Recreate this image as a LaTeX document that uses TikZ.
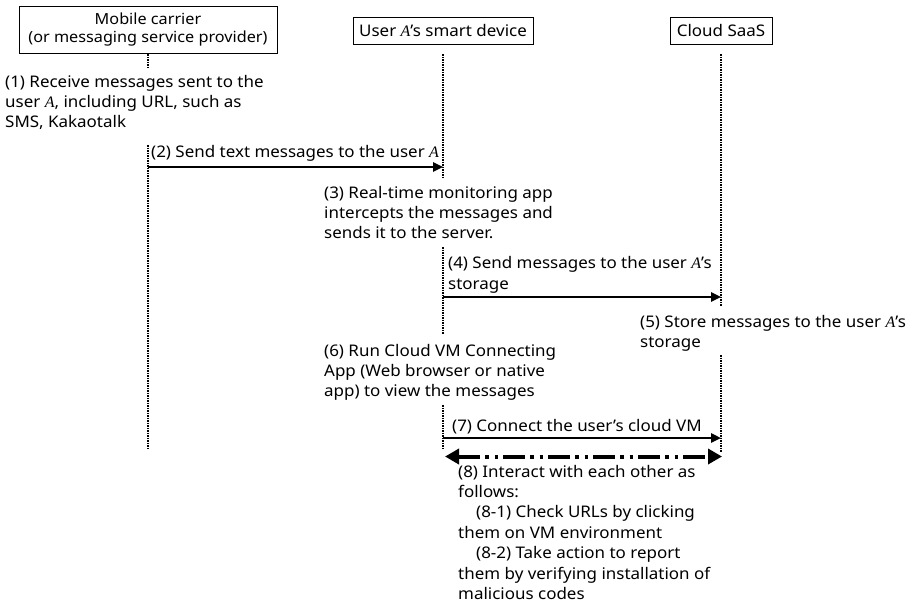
\documentclass[tikz,border=0pt]{standalone}
\usepackage{fontspec}
\setmainfont{Noto Sans}[FakeStretch=1.06]
\newfontfamily\serifA{Liberation Serif}
\usetikzlibrary{arrows.meta}
\newcommand\IA{{\serifA\itshape A}}
\newcommand\blk[2][20pt]{\vtop{\baselineskip=#1\lineskiplimit=-20pt\halign{##\hfil\cr#2\crcr}}}
\begin{document}
\begin{tikzpicture}[x=1pt,y=-1pt,
  font=\fontsize{16}{20}\selectfont,
  box/.style={draw, line width=0.8pt, inner sep=0pt, align=center},
  note/.style={anchor=base west, inner sep=0pt},
  life/.style={line width=1.1pt, dash pattern=on 1.5pt off 1pt},
  msg/.style={line width=2.4pt, -{Triangle[length=10pt,width=9pt]}},
  inter/.style={line width=4pt, dash pattern=on 22pt off 5pt on 3.5pt off 6pt on 3.5pt off 5pt,
    {Triangle[length=14pt,width=15pt]}-{Triangle[length=14pt,width=15pt]}}]
\useasboundingbox[fill=white] (0,0) rectangle (909,606);

% participants
\node[box, minimum width=258pt, minimum height=47pt, font=\fontsize{15.3}{18}\selectfont] (mc) at (148,29.5)
  {Mobile carrier\\(or messaging service provider)};
\node[box, minimum width=180pt, minimum height=27pt] (ud) at (443,30.5) {User \IA's smart device};
\node[box, minimum width=102pt, minimum height=27pt] (cs) at (721,30.5) {Cloud SaaS};

% lifeline coordinates
\coordinate (a0) at (148,54);  \coordinate (a1) at (148,68);
\coordinate (a2) at (148,145); \coordinate (a3) at (148,450);
\coordinate (b0) at (443,54);  \coordinate (b1) at (443,178);
\coordinate (b2) at (443,247); \coordinate (b3) at (443,334);
\coordinate (b4) at (443,405); \coordinate (b5) at (443,450);
\coordinate (c0) at (721,54);  \coordinate (c1) at (721,306);
\coordinate (c2) at (721,355); \coordinate (c3) at (721,452);

\draw[life] (a0) -- (a1) (a2) -- (a3);
\draw[life] (b0) -- (b1) (b2) -- (b3) (b4) -- (b5);
\draw[life] (c0) -- (c1) (c2) -- (c3);

% notes
\node[note] (n1) at (5,87) {\blk{(1) Receive messages sent to the\cr user \IA, including URL, such as\cr SMS, Kakaotalk}};
\node[note] (l2) at (151,157) {(2) Send text messages to the user \IA};
\node[note] (n3) at (324,198) {\blk{(3) Real-time monitoring app\cr intercepts the messages and\cr sends it to the server.}};
\node[note] (l4) at (448,268) {\blk[21pt]{(4) Send messages to the user \IA's\cr storage}};
\node[note] (n5) at (640,327) {\blk{(5) Store messages to the user \IA's\cr storage}};
\node[note] (n6) at (324,356) {\blk{(6) Run Cloud VM Connecting\cr App (Web browser or native\cr app) to view the messages}};
\node[note] (l7) at (452,431) {(7) Connect the user's cloud VM};
\node[note] (n8) at (458,477) {\blk[20.4pt]{(8) Interact with each other as\cr follows:\cr
  \hspace*{18pt}(8-1) Check URLs by clicking\cr them on VM environment\cr
  \hspace*{18pt}(8-2) Take action to report\cr them by verifying installation of\cr malicious codes}};

% message anchors
\coordinate (m2s) at (148,167); \coordinate (m2e) at (443,167);
\coordinate (m4s) at (443,297); \coordinate (m4e) at (721,297);
\coordinate (m7s) at (443,438); \coordinate (m7e) at (721,438);
\coordinate (m8s) at (445,456.5); \coordinate (m8e) at (722,456.5);

\draw[msg] (m2s) -- (m2e);
\draw[msg] (m4s) -- (m4e);
\draw[msg] (m7s) -- (m7e);
\draw[inter] (m8s) -- (m8e);
\end{tikzpicture}
\end{document}
